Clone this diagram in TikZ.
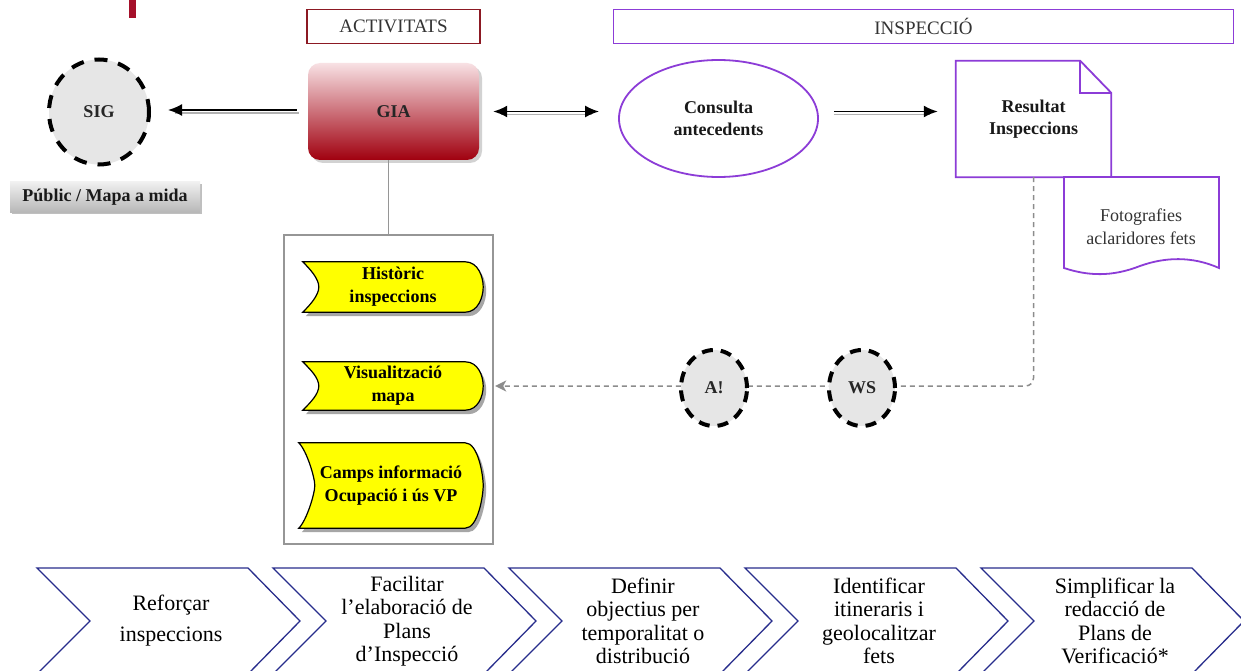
\documentclass[tikz,border=0pt]{standalone}
\usepackage{fontspec}
\setmainfont{Liberation Serif}
\usetikzlibrary{shapes.geometric,arrows.meta,calc,shadows}
\pgfdeclarelayer{bg}
\pgfsetlayers{bg,main}
\definecolor{actred}{RGB}{140,25,35}
\definecolor{markred}{RGB}{165,16,42}
\definecolor{purp}{RGB}{140,60,215}
\definecolor{navy}{RGB}{40,45,140}
\definecolor{dgray}{RGB}{150,150,150}
\definecolor{circfill}{RGB}{230,230,230}
\definecolor{ysig}{RGB}{255,255,0}
\definecolor{giatop}{RGB}{248,225,228}
\definecolor{giamid}{RGB}{205,80,95}
\definecolor{giabot}{RGB}{160,0,15}
\newcommand{\sigpath}[1]{(#1.north west) -- ($(#1.north east)+(-18,0)$) .. controls ($(#1.north east)+(-5,0)$) and ($(#1.east)+(0,-10)$) .. (#1.east) .. controls ($(#1.east)+(0,10)$) and ($(#1.south east)+(-5,0)$) .. ($(#1.south east)+(-18,0)$) -- (#1.south west) .. controls ($(#1.south west)+(8,-8)$) and ($(#1.west)+(16,8)$) .. ($(#1.west)+(16,0)$) .. controls ($(#1.west)+(16,-8)$) and ($(#1.north west)+(8,8)$) .. (#1.north west) -- cycle}
\begin{document}
\begin{tikzpicture}[x=1pt,y=-1pt,
  hdr/.style={draw, fill=white, minimum height=34pt, inner sep=0pt, text=black!80, font=\fontsize{19}{20}\selectfont},
  dcirc/.style={ellipse, fill=circfill, draw=black, line width=4pt, dash pattern=on 13pt off 11pt, inner sep=0pt, text=black!85, font=\bfseries\fontsize{18}{20}\selectfont},
  lbl/.style={align=center, inner sep=0pt, text=black!90, font=\bfseries\fontsize{18}{22.5}\selectfont},
  ytxt/.style={align=center, inner sep=0pt, text=black, font=\bfseries\fontsize{18}{23}\selectfont},
  ysh/.style={draw=black, line width=1.2pt, fill=ysig},
  chev/.style={draw=navy, line width=1.3pt},
  chevtxt/.style={align=center, inner sep=0pt, font=\fontsize{22}{23.5}\selectfont},
  tip/.tip={Latex[length=14pt,width=12pt]},
  blk/.style={line width=1.8pt, draw=black, -tip},
  blkshadow/.style={line width=1.5pt, draw=black!30},
  dashc/.style={draw=black!45, line width=1.5pt, dash pattern=on 5pt off 4pt},
]
\useasboundingbox (0,0) rectangle (1241,671);
\begin{pgfonlayer}{bg}
  \fill[white] (0,0) rectangle (1241,671);
  \node[draw=dgray, line width=1.3pt, fill=white, minimum width=209pt, minimum height=309pt, inner sep=0pt] (box) at (388.5,389.5) {};
\end{pgfonlayer}

% header
\fill[markred] (129,0) rectangle (136,18);
\node[hdr, draw=actred, line width=1.4pt, minimum width=173pt] (act) at (393.5,26.5) {ACTIVITATS};
\node[hdr, draw=purp, line width=1.8pt, minimum width=620pt] (insp) at (923.5,26.5) {INSPECCIÓ};

% SIG and label
\node[dcirc, minimum width=100pt, minimum height=105pt] (sig) at (99,112) {SIG};
\node[minimum width=190pt, minimum height=30pt, inner sep=0pt, top color=black!6, bottom color=black!28,
      drop shadow={shadow xshift=2pt, shadow yshift=-2pt, opacity=.5},
      text=black!90, font=\bfseries\fontsize{18}{20}\selectfont] (pub) at (105,197) {Públic / Mapa a mida};

% GIA
\node[rounded corners=12pt, minimum width=171pt, minimum height=97pt, inner sep=0pt,
      top color=giatop, middle color=giamid, bottom color=giabot,
      drop shadow={shadow xshift=3pt, shadow yshift=-3pt, opacity=.35},
      text=black!85, font=\bfseries\fontsize{18}{20}\selectfont] (gia) at (393.5,111.5) {GIA};

% Consulta, Resultat, Fotografies
\node[ellipse, draw=purp, line width=1.8pt, minimum width=199pt, minimum height=117pt, lbl] (cons) at (718.5,118.5) {Consulta\\antecedents};
\node[lbl, minimum width=155pt, minimum height=116pt] (res) at (1033.5,119) {Resultat\\Inspeccions};
\node[align=center, inner sep=0pt, text=black!80, font=\fontsize{18}{23}\selectfont] (fot) at (1141,227) {Fotografies\\aclaridores fets};

% yellow signals
\node[ytxt, minimum width=180pt, minimum height=50pt] (hist) at (393,287) {Històric\\inspeccions};
\node[ytxt, minimum width=180pt, minimum height=48pt] (vis) at (393,386) {Visualització\\mapa};
\node[ytxt, minimum width=184pt, minimum height=85pt] (camps) at (391,485.5) {Camps informació\\Ocupació i ús VP};

\begin{pgfonlayer}{bg}
  \foreach \s in {hist,vis,camps} {
    \fill[black!35, transform canvas={xshift=3pt,yshift=-4pt}] \sigpath{\s};
    \draw[ysh] \sigpath{\s};
  }
  % Resultat document
  \draw[draw=purp, line width=1.8pt, fill=white] (res.north west) -- ($(res.north east)+(-31,0)$) -- ($(res.north east)+(0,32)$) -- (res.south east) -- (res.south west) -- cycle;
  \draw[draw=purp, line width=1.8pt] ($(res.north east)+(-31,0)$) -- ($(res.north east)+(-31,32)$) -- ($(res.north east)+(0,32)$);
  % Fotografies document
  \draw[draw=purp, line width=1.8pt, fill=white] (1064,177) -- (1219,177) -- (1219,268)
     .. controls (1192,256) and (1165,257) .. (1140,266)
     .. controls (1112,277) and (1088,276) .. (1064,268) -- cycle;
  % dashed feedback connector
  \draw[dashc, rounded corners=8pt, -{Stealth[length=11pt,width=11pt,inset=3pt,fill=black!45]}, shorten >=12pt] (res.south) |- (vis.east);
\end{pgfonlayer}

% circles on the dashed connector
\node[dcirc, minimum width=66pt, minimum height=76pt, dash pattern=on 11pt off 8pt] (al) at (714,388) {A!};
\node[dcirc, minimum width=66pt, minimum height=76pt, dash pattern=on 11pt off 8pt] (ws) at (862,388) {WS};

% connectors
\draw[draw=dgray, line width=1.3pt] (box.north |- gia.south) -- (box.north);
\draw[blkshadow, transform canvas={yshift=-3pt}, shorten <=9pt, shorten >=24pt] ($(gia.west)+(0,-1.5)$) -- ($(sig.east |- gia.west)+(0,-1.5)$);
\draw[blk, shorten <=11pt, shorten >=17pt] ($(gia.west)+(0,-1.5)$) -- ($(sig.east |- gia.west)+(0,-1.5)$);
\draw[blkshadow, transform canvas={yshift=-3pt}, shorten <=22pt, shorten >=26pt] (gia.east) -- (gia.east -| cons.west);
\draw[blk, tip-tip, shorten <=14pt, shorten >=19pt] (gia.east) -- (gia.east -| cons.west);
\draw[blkshadow, transform canvas={yshift=-3pt}, shorten <=15pt, shorten >=26pt] (gia.east -| cons.east) -- (gia.east -| res.west);
\draw[blk, shorten <=15pt, shorten >=18pt] (gia.east -| cons.east) -- (gia.east -| res.west);

% chevrons
\node[chevtxt, font=\fontsize{22}{31}\selectfont] (ch1) at (171,621) {Reforçar\\inspeccions};
\node[chevtxt] (ch2) at (407,621) {Facilitar\\l’elaboració de\\Plans\\d’Inspecció};
\node[chevtxt] (ch3) at (643,621) {Definir\\objectius per\\temporalitat o\\distribució};
\node[chevtxt] (ch4) at (879,621) {Identificar\\itineraris i\\geolocalitzar\\fets};
\node[chevtxt] (ch5) at (1115,621) {Simplificar la\\redacció de\\Plans de\\Verificació*};
\foreach \n in {ch1,ch2,ch3,ch4,ch5} {
  \draw[chev] ($(\n)+(-134,-53)$) -- ($(\n)+(77,-53)$) -- ($(\n)+(129,0)$) -- ($(\n)+(77,53)$) -- ($(\n)+(-134,53)$) -- ($(\n)+(-81,0)$) -- cycle;
}
\end{tikzpicture}
\end{document}
